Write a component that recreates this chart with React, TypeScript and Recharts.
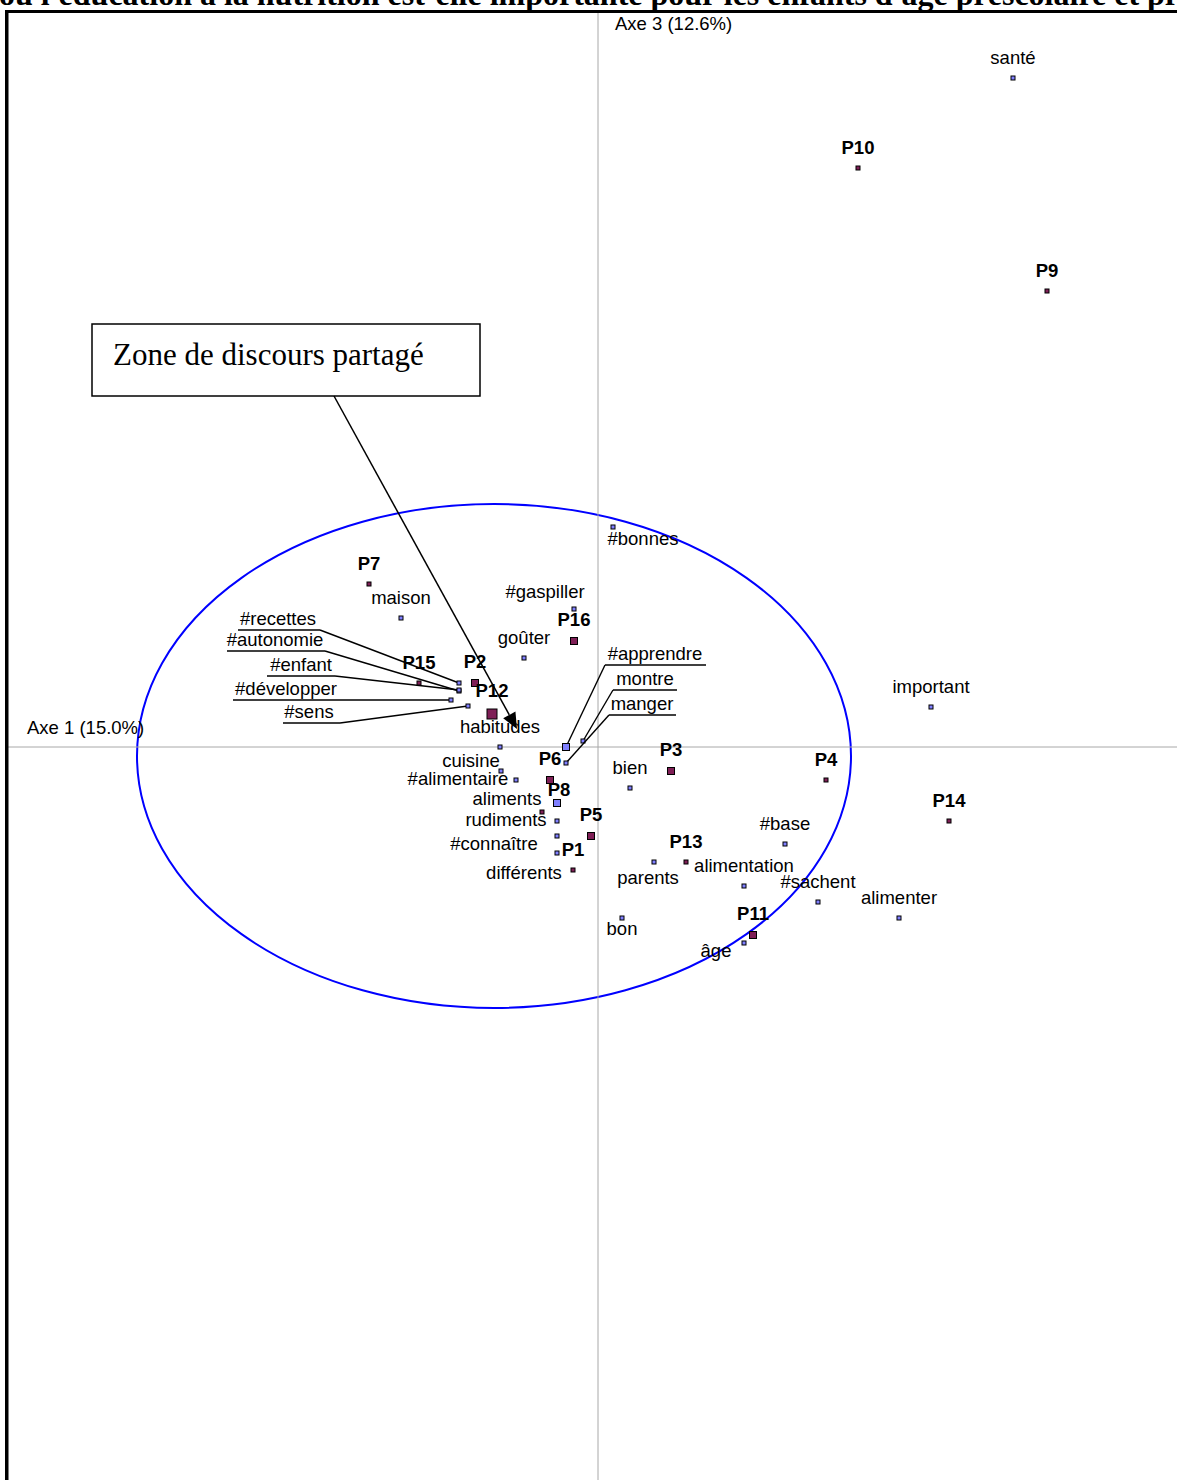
import React from 'react';
import { ScatterChart, Scatter, XAxis, YAxis, ReferenceLine, ReferenceArea } from 'recharts';

const TITLE =
  "ou l'éducation à la nutrition est-elle importante pour les enfants d'âge préscolaire et primaire";
const AXIS_1_TITLE = 'Axe 1 (15.0%)';
const AXIS_3_TITLE = 'Axe 3 (12.6%)';
const ZONE_TEXT = 'Zone de discours partagé';

// --- respondents (P1..P16) ---
const personNames = ['P1', 'P2', 'P3', 'P4', 'P5', 'P6', 'P7', 'P8', 'P9', 'P10', 'P11', 'P12', 'P13', 'P14', 'P15', 'P16'];
const personAxe1 = [-0.25, -1.23, 0.73, 2.28, -0.07, -0.48, -2.29, -0.56, 4.49, 2.6, 1.55, -1.06, 0.88, 3.51, -1.79, -0.24];
const personAxe3 = [-1.23, 0.64, -0.24, -0.33, -0.89, -0.33, 1.63, -0.65, 4.56, 5.79, -1.88, 0.33, -1.15, -0.74, 0.64, 1.06];
const personWeight = [1, 2, 2, 1, 2, 2, 1, 1, 1, 1, 2, 3, 1, 1, 1, 2];

// --- words ---
const wordNames = [
  'santé', '#bonnes', 'maison', '#gaspiller', 'goûter', '#recettes', '#autonomie', '#enfant',
  '#développer', '#sens', 'habitudes', '#apprendre', 'montre', 'manger', 'cuisine', '#alimentaire',
  'aliments', 'rudiments', '#connaître', 'différents', 'bien', 'parents', '#base', 'alimentation',
  '#sachent', 'alimenter', 'important', 'bon', 'âge',
];
const wordAxe1 = [
  4.15, 0.15, -1.97, -0.24, -0.74, -1.39, -1.39, -1.39,
  -1.47, -1.3, -0.98, -0.32, -0.15, -0.32, -0.97, -0.82,
  -0.41, -0.41, -0.41, -0.41, 0.32, 0.56, 1.87, 1.46,
  2.2, 3.01, 3.33, 0.24, 1.46,
];
const wordAxe3 = [
  6.69, 2.2, 1.29, 1.38, 0.89, 0.64, 0.56, 0.57,
  0.47, 0.41, 0.0, 0.0, 0.06, -0.16, -0.24, -0.33,
  -0.56, -0.74, -0.89, -1.06, -0.41, -1.15, -0.97, -1.39,
  -1.55, -1.71, 0.4, -1.71, -1.96,
];
const wordWeight = [
  1, 1, 1, 1, 1, 1, 1, 1,
  1, 1, 1, 2, 1, 1, 1, 1,
  2, 1, 1, 1, 1, 1, 1, 1,
  1, 1, 1, 1, 1,
];

// shared-discourse zone (ellipse bounds, in axis units)
const zoneAxe1 = [-4.61, 2.53];
const zoneAxe3 = [-2.61, 2.43];
// annotation box + arrow (axis units)
const noteBoxAxe1 = [-5.06, -1.18];
const noteBoxAxe3 = [3.51, 4.23];
const arrowFrom = { x: -2.64, y: 3.51 };
const arrowTo = { x: -0.81, y: 0.18 };

const X_DOMAIN = [-5.9, 5.79];
const Y_DOMAIN = [-7.33, 7.34];

const persons = personNames.map((name, i) => ({ name, x: personAxe1[i], y: personAxe3[i], w: personWeight[i] }));
const words = wordNames.map((name, i) => ({ name, x: wordAxe1[i], y: wordAxe3[i], w: wordWeight[i] }));

// label placement (pixel offsets of text centre from the marker)
const labelOffset: Record<string, [number, number]> = {
  P8: [17, -22],
  '#bonnes': [30, 12],
  '#gaspiller': [-29, -17],
  cuisine: [-30, -10],
  '#alimentaire': [-58, -1],
  aliments: [-50, -4],
  rudiments: [-51, -1],
  '#connaître': [-63, 8],
  'différents': [-33, 20],
  parents: [-6, 16],
  bon: [0, 11],
  'âge': [-28, 8],
};

// labels with an underline + leader line: tx = text centre, ty = underline, x1..x2 = underline
const leaders: Record<string, { tx: number; ty: number; x1: number; x2: number }> = {
  '#recettes': { tx: -181, ty: -53, x1: -221, x2: -139 },
  '#autonomie': { tx: -184, ty: -40, x1: -232, x2: -134 },
  '#enfant': { tx: -158, ty: -14, x1: -192, x2: -124 },
  '#développer': { tx: -165, ty: 0, x1: -218, x2: -114 },
  '#sens': { tx: -159, ty: 17, x1: -185, x2: -128 },
  '#apprendre': { tx: 89, ty: -82, x1: 39, x2: 140 },
  montre: { tx: 62, ty: -51, x1: 30, x2: 94 },
  manger: { tx: 76, ty: -48, x1: 43, x2: 110 },
};

const SANS = '"Liberation Sans", Arial, sans-serif';
const SERIF = '"Liberation Serif", "Times New Roman", serif';
const MARK_SIZE: Record<number, number> = { 1: 5, 2: 8, 3: 11 };
const FONT_SIZE = 18.5;

const Mark = (props: any) => {
  const { cx, cy, payload, fill, bold } = props;
  const s = MARK_SIZE[payload.w];
  const lead = leaders[payload.name];
  const textStyle = { fontFamily: SANS, fontSize: FONT_SIZE, fontWeight: bold ? 700 : 400 };
  let label;
  if (lead) {
    const sx = lead.x2 < 0 ? lead.x2 : lead.x1;
    label = (
      <g>
        <text x={cx + lead.tx} y={cy + lead.ty - 5} textAnchor="middle" fill="#000" style={textStyle}>
          {payload.name}
        </text>
        <line x1={cx + lead.x1} y1={cy + lead.ty} x2={cx + lead.x2} y2={cy + lead.ty} stroke="#000" strokeWidth={1.4} />
        <line x1={cx + sx} y1={cy + lead.ty} x2={cx} y2={cy} stroke="#000" strokeWidth={1.4} />
      </g>
    );
  } else {
    const off = labelOffset[payload.name] ?? [0, -(17.5 + s / 2)];
    label = (
      <text x={cx + off[0]} y={cy + off[1] + 6} textAnchor="middle" fill="#000" style={textStyle}>
        {payload.name}
      </text>
    );
  }
  return (
    <g>
      {label}
      <rect x={cx - (s - 1) / 2} y={cy - (s - 1) / 2} width={s - 1} height={s - 1} fill={fill} stroke="#000" strokeWidth={1} />
    </g>
  );
};

const AxisTitle = (props: any) => {
  const { viewBox, text, dx, dy } = props;
  return (
    <text x={viewBox.x + dx} y={viewBox.y + dy} fill="#000" style={{ fontFamily: SANS, fontSize: FONT_SIZE }}>
      {text}
    </text>
  );
};

const Zone = (props: any) => {
  const { x, y, width, height } = props;
  return (
    <ellipse cx={x + width / 2} cy={y + height / 2} rx={width / 2} ry={height / 2} fill="none" stroke="#0000ff" strokeWidth={2} />
  );
};

const NoteBox = (props: any) => {
  const { x, y, width, height } = props;
  return (
    <g>
      <rect x={x} y={y} width={width} height={height} fill="#fff" stroke="#000" strokeWidth={1.5} />
      <text x={x + 21} y={y + 41} fill="#000" style={{ fontFamily: SERIF, fontSize: 31 }}>
        {ZONE_TEXT}
      </text>
    </g>
  );
};

const Arrow = (props: any) => {
  const { x1, y1, x2, y2 } = props;
  const ang = Math.atan2(y2 - y1, x2 - x1);
  const len = 16;
  const half = 7;
  const bx = x2 - len * Math.cos(ang);
  const by = y2 - len * Math.sin(ang);
  const px = -Math.sin(ang) * half;
  const py = Math.cos(ang) * half;
  return (
    <g>
      <line x1={x1} y1={y1} x2={bx} y2={by} stroke="#000" strokeWidth={1.5} />
      <polygon points={`${x2},${y2} ${bx + px},${by + py} ${bx - px},${by - py}`} fill="#000" />
    </g>
  );
};

const App: React.FC = () => {
  return (
    <div style={{ position: 'fixed', left: 0, top: 0, width: 1177, height: 1480, overflow: 'hidden', background: '#fff' }}>
      <ScatterChart width={1177} height={1480} margin={{ top: 13, right: 0, bottom: 0, left: 8 }}>
        <XAxis type="number" dataKey="x" domain={X_DOMAIN} hide allowDataOverflow />
        <YAxis type="number" dataKey="y" domain={Y_DOMAIN} hide allowDataOverflow />
        <ReferenceLine x={0} stroke="#a8a8a8" strokeWidth={1} label={<AxisTitle text={AXIS_3_TITLE} dx={17} dy={17} />} />
        <ReferenceLine y={0} stroke="#a8a8a8" strokeWidth={1} label={<AxisTitle text={AXIS_1_TITLE} dx={19} dy={-13} />} />
        <Scatter data={words} fill="#8080ff" isAnimationActive={false} shape={(p: any) => <Mark {...p} fill="#8080ff" bold={false} />} />
        <Scatter data={persons} fill="#7f1f56" isAnimationActive={false} shape={(p: any) => <Mark {...p} fill="#7f1f56" bold />} />
        <ReferenceArea x1={zoneAxe1[0]} x2={zoneAxe1[1]} y1={zoneAxe3[0]} y2={zoneAxe3[1]} shape={<Zone />} />
        <ReferenceArea x1={noteBoxAxe1[0]} x2={noteBoxAxe1[1]} y1={noteBoxAxe3[0]} y2={noteBoxAxe3[1]} shape={<NoteBox />} />
        <ReferenceLine segment={[arrowFrom, arrowTo]} shape={(p: any) => <Arrow {...p} />} />
      </ScatterChart>
      <svg
        width={1177}
        height={1480}
        style={{ position: 'absolute', left: 0, top: 0, display: 'block', overflow: 'hidden', pointerEvents: 'none' }}
      >
        <text x={-1} y={5} fill="#000" style={{ fontFamily: SERIF, fontSize: 32, fontWeight: 700 }}>
          {TITLE}
        </text>
        <rect x={5} y={10} width={1172} height={3} fill="#000" />
        <rect x={5} y={10} width={3.5} height={1470} fill="#000" />
      </svg>
    </div>
  );
};

export default App;
